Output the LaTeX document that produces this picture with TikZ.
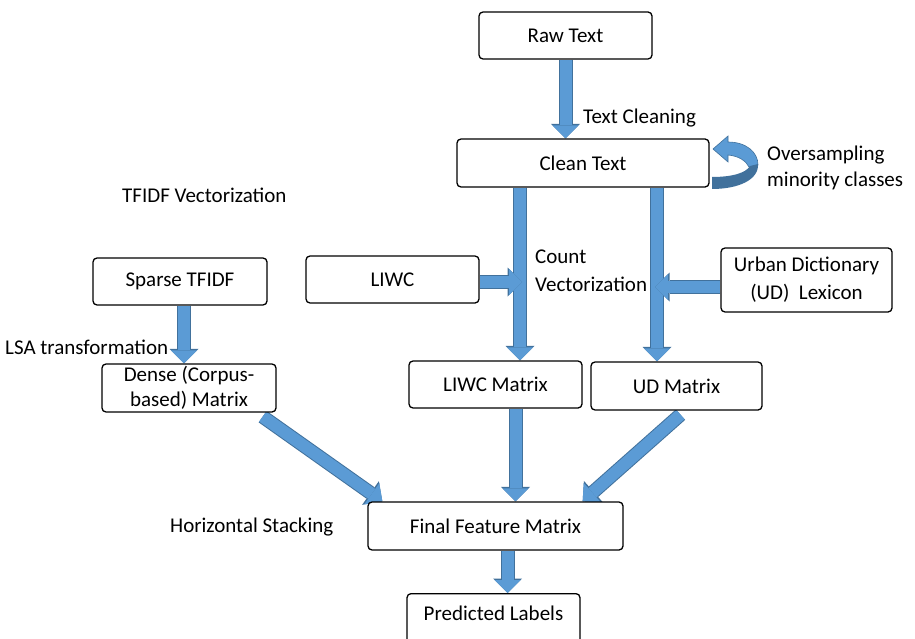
\documentclass[tikz,border=0pt]{standalone}
\usepackage{fontspec}
\setmainfont{Carlito}
\usetikzlibrary{arrows.meta,calc}
\definecolor{ablue}{RGB}{91,155,213}
\definecolor{adark}{RGB}{65,113,156}
\pgfdeclarelayer{bg}
\pgfsetlayers{bg,main}
\begin{document}
\begin{tikzpicture}[x=1pt,y=-1pt,
  box/.style={draw, line width=1.3pt, rounded corners=4pt, fill=white, align=center, inner sep=0pt,
    font=\fontsize{21}{27}\selectfont},
  lbl/.style={anchor=west, inner sep=0pt, align=left, font=\fontsize{21}{27}\selectfont},
  barrow/.style={line width=12pt, draw=ablue, -{Triangle[width=26pt,length=13pt,line width=0pt]},
    preaction={draw=adark, line width=14pt, -{Triangle[width=29pt,length=14.5pt,line width=0pt]}}}]
\useasboundingbox (0,0) rectangle (915,639);
\clip (0,0) rectangle (915,639);

% boxes
\node[box, minimum width=173pt, minimum height=47pt] (raw) at (565.5,35.5) {Raw Text};
\node[box, minimum width=252pt, minimum height=48pt] (clean) at (583,163) {Clean Text};
\node[box, minimum width=174pt, minimum height=47pt] (sparse) at (180,281.5) {Sparse TFIDF};
\node[box, minimum width=173pt, minimum height=47pt] (liwc) at (392.5,279.5) {LIWC};
\node[box, minimum width=171pt, minimum height=64pt, font=\fontsize{21}{28}\selectfont] (urban) at (806.5,280) {Urban Dictionary\\(UD)~~Lexicon};
\node[box, minimum width=174pt, minimum height=48pt, font=\fontsize{21}{25}\selectfont] (dense) at (189,388) {Dense (Corpus-\\based) Matrix};
\node[box, minimum width=173pt, minimum height=47pt] (liwcm) at (495.5,384.5) {LIWC Matrix};
\node[box, minimum width=171pt, minimum height=48pt] (udm) at (676.5,386) {UD Matrix};
\node[box, minimum width=255pt, minimum height=48pt] (final) at (495.5,526) {Final Feature Matrix};
\node[box, minimum width=173pt, text height=27pt, text depth=30pt, anchor=north] (pred) at (493.5,593) {Predicted Labels};

% labels
\node[lbl] (tclean) at (583,118) {Text Cleaning};
\node[lbl, font=\fontsize{21}{26}\selectfont] (over) at (767,168) {Oversampling\\minority classes};
\node[lbl] (tfidf) at (122,195) {TFIDF Vectorization};
\node[lbl, font=\fontsize{21}{28}\selectfont] (count) at (535,271) {Count\\Vectorization};
\node[lbl] (lsa) at (5,347) {LSA transformation};
\node[lbl] (hstack) at (170,527) {Horizontal Stacking};

\coordinate (lt) at (522,282);
\coordinate (ut) at (655,287);

\begin{pgfonlayer}{bg}
\draw[barrow] (raw.south) -- (raw.south |- clean.north);
\draw[barrow] ([xshift=-63pt]clean.south) -- ([xshift=-63pt]clean.south |- liwcm.north);
\draw[barrow] ([xshift=74pt]clean.south) -- ([xshift=74pt]clean.south |- udm.north);
\draw[barrow] (liwc.east |- lt) -- (lt);
\draw[barrow] (urban.west |- ut) -- (ut);
\draw[barrow] ([xshift=4pt]sparse.south) -- ([xshift=4pt]sparse.south |- dense.north);
\draw[barrow] ([xshift=-14pt,yshift=-4pt]dense.south east) -- ([xshift=15pt]final.north west);
\draw[barrow] ([xshift=20pt]liwcm.south) -- ([xshift=20pt]liwcm.south |- final.north);
\draw[barrow] ([xshift=4pt,yshift=-4pt]udm.south) -- ([xshift=-41pt]final.north east);
\draw[barrow] ([xshift=12pt]final.south) -- ([xshift=12pt]final.south |- pred.north);
\end{pgfonlayer}

% curved self arrow on Clean Text
\fill[ablue, draw=adark, line width=0.6pt] (728,136) -- (713,149) -- (728,162) -- (728,155)
  .. controls (739,156) and (746,161) .. (749,167) -- (758,165)
  .. controls (758,152) and (746,142) .. (728,142) -- cycle;
\fill[adark] (712,177) .. controls (732,177) and (746,173) .. (750,166) -- (758,164)
  .. controls (759,180) and (738,189) .. (712,189) -- cycle;
\end{tikzpicture}
\end{document}
